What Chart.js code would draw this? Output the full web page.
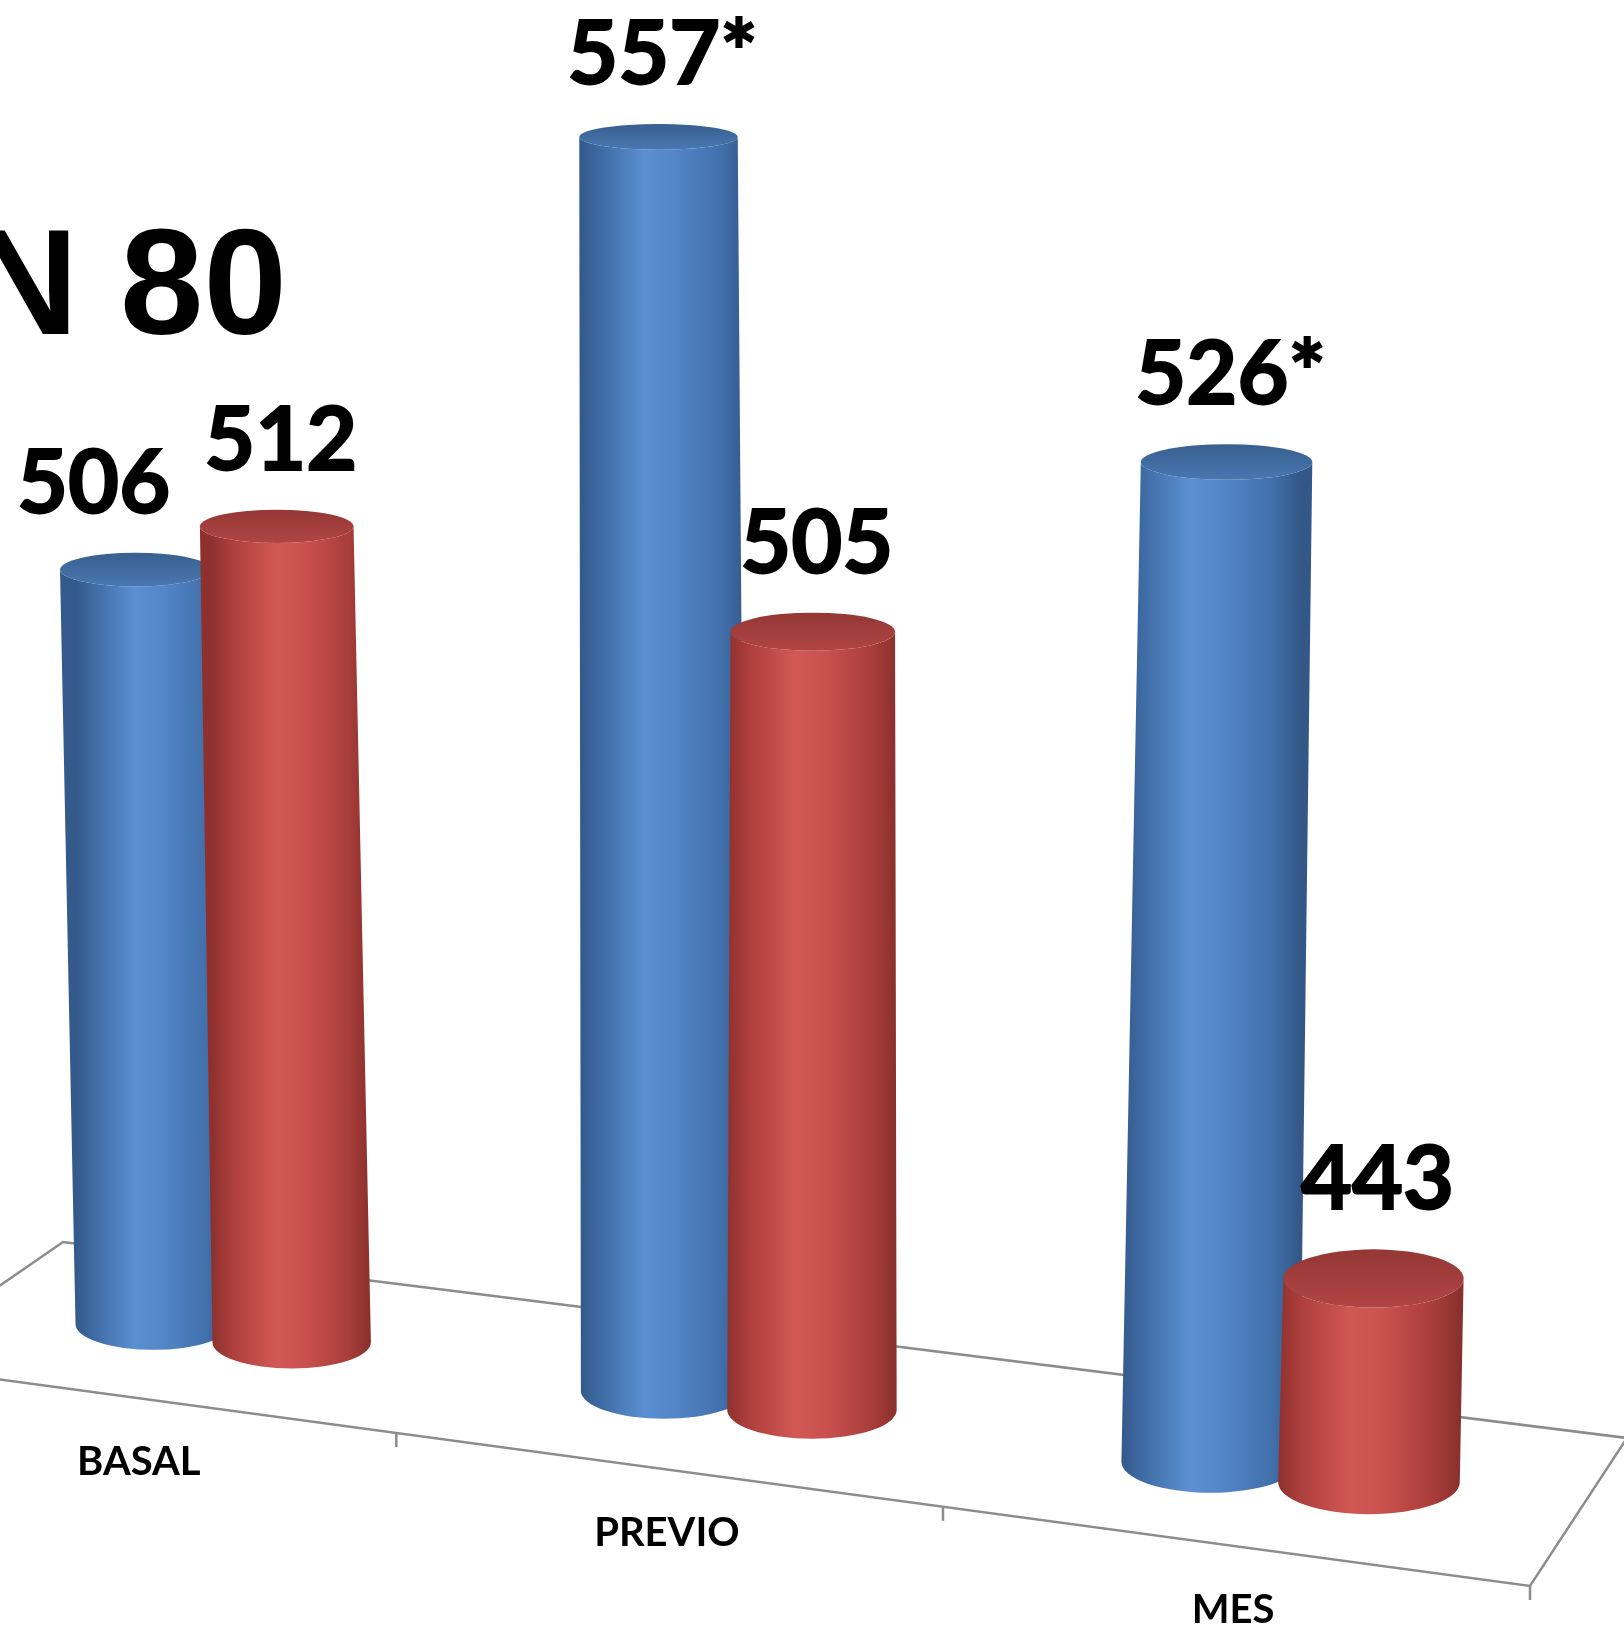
<!DOCTYPE html>
<html>
<head>
<meta charset="utf-8">
<script src="https://cdn.jsdelivr.net/npm/chart.js@4.4.1/dist/chart.umd.min.js"></script>
<style>
  html, body { margin: 0; padding: 0; background: #fff; }
  canvas { display: block; }
</style>
</head>
<body>
<canvas id="chart" width="1624" height="1627"></canvas>
<script>
const categories = ["BASAL", "PREVIO", "MES"];
const blueValues = [506, 557, 526];
const redValues = [512, 505, 443];
const blueMarks = ["", "*", "*"];
const redMarks = ["", "", ""];
const titleText = "N 80";

// floor outline on screen: front-left, front-right, back-right, back-left
const FLOOR = [[-114, 1364], [1530, 1586], [1627, 1438], [63, 1242]];
const BAR_DEPTH = 0.5;         // where the cylinders stand between front (0) and back (1)
const WALL = 1443;             // screen height of the whole y range at unit depth
const VANISH = [782, 28100];   // verticals lean towards this point far below
const HORIZON = -1018, EYE = 7112; // how flat the ellipses look at a given height
const LABEL_FONT = 'bold 88px Lato';

const BLUE = {
  body: [[0, "#34598b"], [0.12, "#3f6ba4"], [0.38, "#5a8fd2"], [0.55, "#5487c9"], [0.85, "#416faa"], [1, "#335887"]],
  lid: ["#38608f", "#4977b1"]
};
const RED = {
  body: [[0, "#8e312e"], [0.12, "#ac3e3b"], [0.4, "#d15855"], [0.58, "#c9514e"], [0.86, "#a83d3a"], [1, "#89302d"]],
  lid: ["#943735", "#b04543"]
};

function squareToQuad(q) {
  const [[x0, y0], [x1, y1], [x2, y2], [x3, y3]] = q;
  const dx1 = x1 - x2, dx2 = x3 - x2, dx3 = x0 - x1 + x2 - x3;
  const dy1 = y1 - y2, dy2 = y3 - y2, dy3 = y0 - y1 + y2 - y3;
  const den = dx1 * dy2 - dx2 * dy1;
  const g = (dx3 * dy2 - dx2 * dy3) / den;
  const h = (dx1 * dy3 - dx3 * dy1) / den;
  const a = x1 - x0 + g * x1, b = x3 - x0 + h * x3, c = x0;
  const d = y1 - y0 + g * y1, e = y3 - y0 + h * y3, f = y0;
  return (u, v) => {
    const w = g * u + h * v + 1;
    return { x: (a * u + b * v + c) / w, y: (d * u + e * v + f) / w, w };
  };
}
const project = squareToQuad(FLOOR);
const tilt = (y) => Math.max(0.02, (y - HORIZON) / EYE);

function drawCylinder(ctx, base, top, rxb, rxt, colors) {
  const ryb = rxb * tilt(base.y), ryt = rxt * tilt(top.y);
  const grad = ctx.createLinearGradient(base.x - rxb, 0, base.x + rxb, 0);
  colors.body.forEach(([s, c]) => grad.addColorStop(s, c));
  ctx.beginPath();
  ctx.moveTo(top.x - rxt, top.y);
  ctx.lineTo(base.x - rxb, base.y);
  ctx.ellipse(base.x, base.y, rxb, ryb, 0, Math.PI, 0, true);
  ctx.lineTo(top.x + rxt, top.y);
  ctx.ellipse(top.x, top.y, rxt, ryt, 0, 0, Math.PI, false);
  ctx.closePath();
  ctx.fillStyle = grad;
  ctx.fill();

  const lid = ctx.createLinearGradient(0, top.y - ryt, 0, top.y + ryt);
  lid.addColorStop(0, colors.lid[0]);
  lid.addColorStop(1, colors.lid[1]);
  ctx.beginPath();
  ctx.ellipse(top.x, top.y, rxt, ryt, 0, 0, Math.PI * 2);
  ctx.fillStyle = lid;
  ctx.fill();
  return ryt;
}

const cylinders = {
  id: "cylinders",
  beforeDatasetsDraw(chart) {
    const { ctx, scales: { x } } = chart;
    const x0 = x.getPixelForValue(-0.5), x1 = x.getPixelForValue(categories.length - 0.5);
    ctx.save();
    ctx.strokeStyle = "#8c8c8c";
    ctx.lineWidth = 2.5;
    ctx.beginPath();
    [[0, 0], [1, 0], [1, 1], [0, 1]].forEach(([u, v], i) => {
      const p = project(u, v);
      i ? ctx.lineTo(p.x, p.y) : ctx.moveTo(p.x, p.y);
    });
    ctx.closePath();
    ctx.stroke();

    // tick marks between categories along the front edge
    ctx.beginPath();
    for (let i = 0; i <= categories.length; i++) {
      const u = (x.getPixelForValue(i - 0.5) - x0) / (x1 - x0);
      const p = project(u, 0);
      ctx.moveTo(p.x, p.y);
      ctx.lineTo(p.x, p.y + 14);
    }
    ctx.stroke();

    ctx.fillStyle = "#000";
    ctx.font = 'bold 40px Lato';
    ctx.textAlign = "center";
    ctx.textBaseline = "middle";
    categories.forEach((label, i) => {
      const u = (x.getPixelForValue(i) - x0) / (x1 - x0);
      const p = project(u, 0);
      ctx.fillText(label, p.x + 2, p.y + 64);
    });

    ctx.font = 'bold 150px Arial, "Liberation Sans", sans-serif';
    ctx.textAlign = "left";
    ctx.textBaseline = "alphabetic";
    ctx.fillText(titleText, -30, 334);
    ctx.restore();
  },
  afterDatasetsDraw(chart) {
    const { ctx, scales: { x, y } } = chart;
    const x0 = x.getPixelForValue(-0.5), x1 = x.getPixelForValue(categories.length - 0.5);
    const yLow = y.getPixelForValue(y.min), yHigh = y.getPixelForValue(y.max);
    const palettes = [BLUE, RED];
    const marks = [blueMarks, redMarks];
    ctx.save();
    ctx.font = LABEL_FONT;
    categories.forEach((_, i) => {
      const labels = [];
      chart.data.datasets.forEach((ds, di) => {
        const el = chart.getDatasetMeta(di).data[i];
        const u = (el.x - x0) / (x1 - x0);
        const du = Math.abs(el.width) / (x1 - x0);
        const frac = (yLow - y.getPixelForValue(ds.data[i])) / (yLow - yHigh);
        const base = project(u, BAR_DEPTH);
        const left = project(u - du / 2, BAR_DEPTH);
        const right = project(u + du / 2, BAR_DEPTH);
        const rxb = Math.abs(right.x - left.x) / 2;
        const hs = frac * WALL / base.w;
        const k = hs / (VANISH[1] - base.y);
        const top = { x: base.x + (base.x - VANISH[0]) * k, y: base.y - hs };
        const rxt = rxb * (1 - k);
        const ryt = drawCylinder(ctx, base, top, rxb, rxt, palettes[di]);
        const text = ds.data[i] + marks[di][i];
        labels.push({ text, x: top.x + 4, y: top.y - ryt - 40, w: ctx.measureText(text).width });
      });
      // push the left label aside when the pair would collide
      const [a, b] = labels;
      const gap = (b.x - b.w / 2) - (a.x + a.w / 2);
      if (gap < 34 && Math.abs(a.y - b.y) < 80) a.x -= 34 - gap;
      ctx.fillStyle = "#000";
      ctx.strokeStyle = "#000";
      ctx.lineWidth = 2;
      ctx.textAlign = "center";
      ctx.textBaseline = "alphabetic";
      labels.forEach((l) => { ctx.fillText(l.text, l.x, l.y); ctx.strokeText(l.text, l.x, l.y); });
    });
    ctx.restore();
  }
};

function build() {
  new Chart(document.getElementById("chart"), {
    type: "bar",
    data: {
      labels: categories,
      datasets: [
        { label: "A", data: blueValues, backgroundColor: "rgba(0,0,0,0)" },
        { label: "B", data: redValues, backgroundColor: "rgba(0,0,0,0)" }
      ]
    },
    options: {
      responsive: false,
      animation: false,
      devicePixelRatio: 1,
      layout: { padding: 0 },
      datasets: { bar: { categoryPercentage: 0.555, barPercentage: 1.135 } },
      scales: {
        x: { display: false },
        y: { display: false, min: 422, max: 580 }
      },
      plugins: { legend: { display: false }, tooltip: { enabled: false } }
    },
    plugins: [cylinders]
  });
}

Promise.all([
  document.fonts.load(LABEL_FONT),
  document.fonts.load('bold 150px Arial')
]).then(build, build);
</script>
</body>
</html>
